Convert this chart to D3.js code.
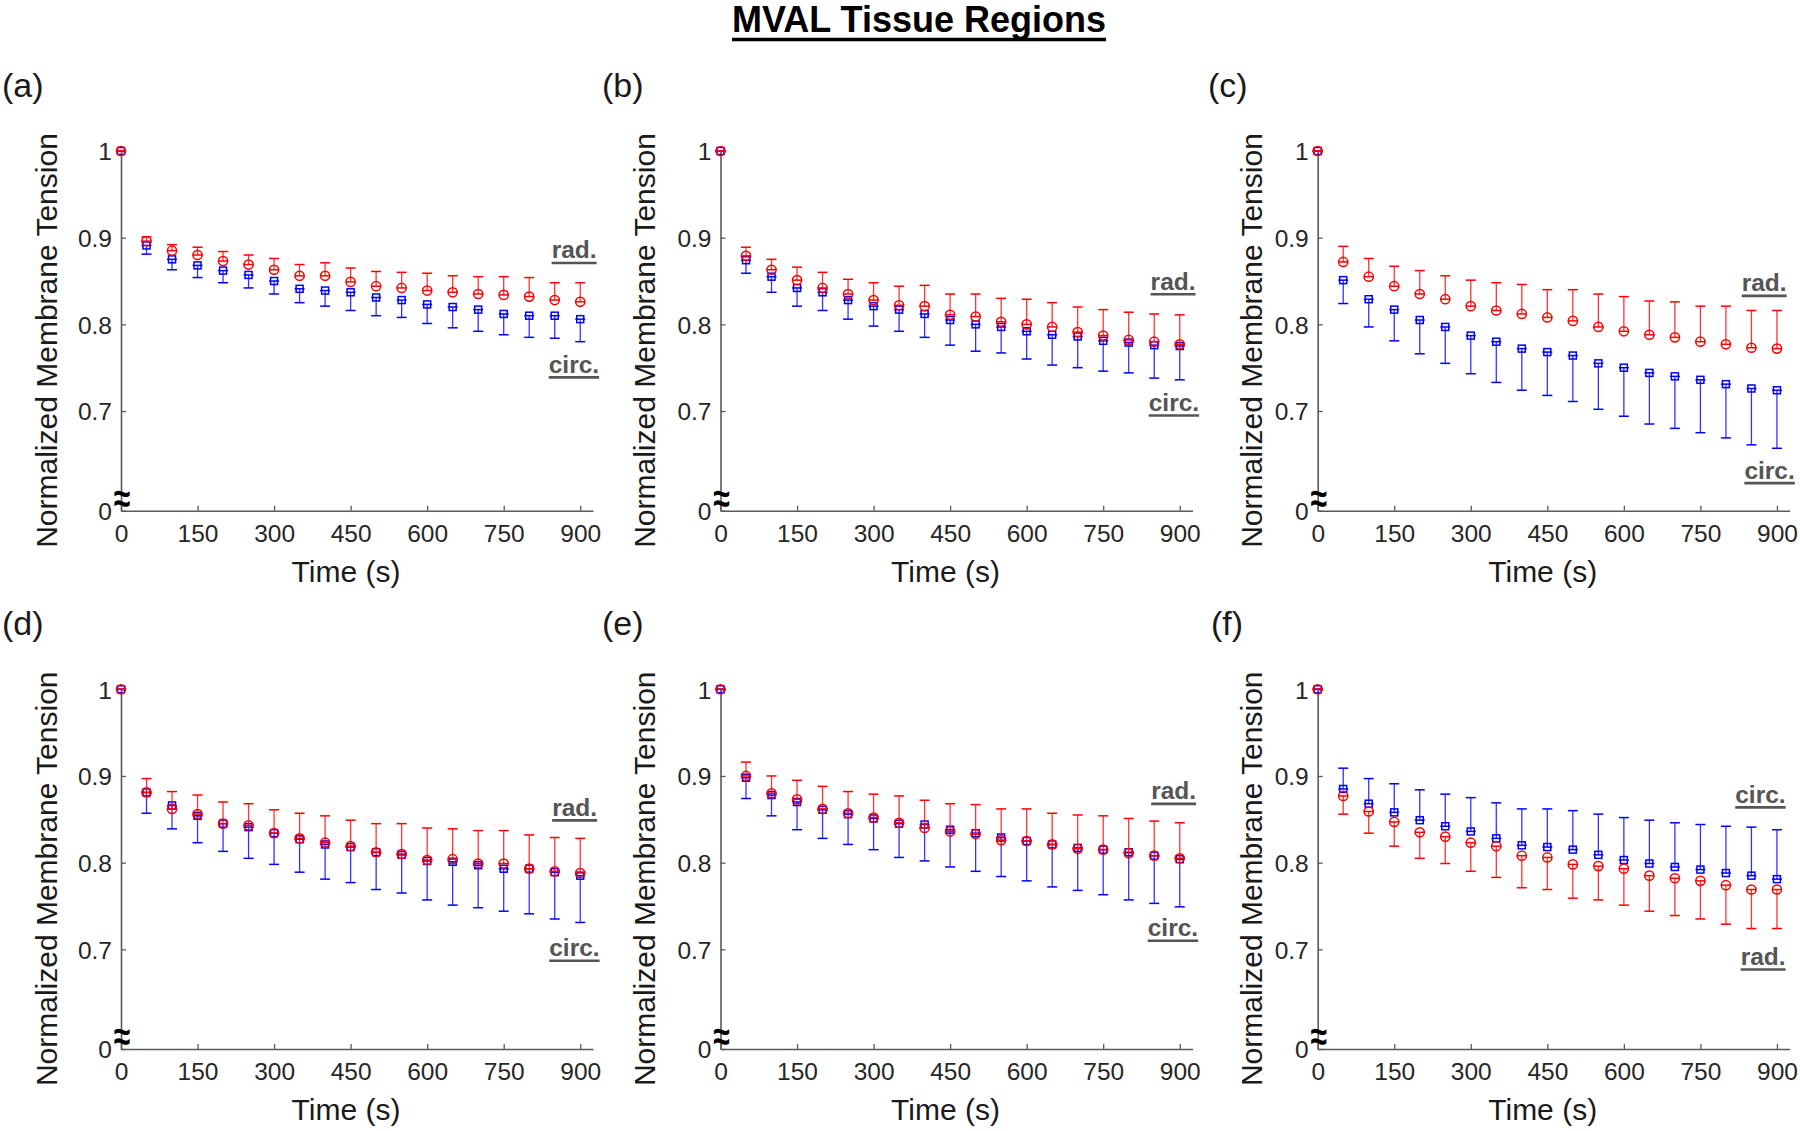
<!DOCTYPE html>
<html>
<head>
<meta charset="utf-8">
<title>MVAL Tissue Regions</title>
<script src="https://d3js.org/d3.v7.min.js"></script>
<style>
  body { margin: 0; background: #fff; }
  svg { display: block; font-family: "Liberation Sans", Arial, Helvetica, sans-serif; }
</style>
</head>
<body>
<svg id="chart"></svg>
<script>
// time points (s) and axis ticks
var timeS = [0, 50, 100, 150, 200, 250, 300, 350, 400, 450, 500, 550, 600, 650, 700, 750, 800, 850, 900];
var xTicks = [0, 150, 300, 450, 600, 750, 900];
var yTicks = [0.585, 0.7, 0.8, 0.9, 1];
var yTickLabels = ["0", "0.7", "0.8", "0.9", "1"];

// (a)
var radMeanA  = [1, .896, .885, .880, .873, .869, .863, .856, .856, .849, .844, .842, .839, .837, .835, .834, .832, .828, .826];
var radSdA    = [0, .005, .007, .009, .011, .011, .013, .013, .015, .016, .017, .018, .020, .019, .020, .021, .022, .020, .022];
var circMeanA = [1, .891, .875, .868, .862, .857, .850, .841, .839, .837, .831, .828, .823, .820, .817, .812, .810, .810, .806];
var circSdA   = [0, .010, .012, .014, .014, .015, .015, .016, .018, .021, .021, .020, .022, .024, .025, .024, .025, .026, .026];
// (b)
var radMeanB  = [1, .879, .863, .851, .842, .835, .828, .822, .821, .811, .809, .803, .800, .797, .791, .787, .782, .780, .777];
var radSdB    = [0, .010, .012, .015, .018, .017, .020, .022, .024, .024, .026, .027, .029, .028, .029, .030, .032, .032, .034];
var circMeanB = [1, .874, .855, .842, .837, .828, .821, .817, .812, .805, .800, .797, .792, .788, .786, .781, .779, .776, .775];
var circSdB   = [0, .015, .018, .021, .021, .022, .023, .025, .027, .029, .031, .030, .032, .035, .036, .035, .035, .038, .039];
// (c)
var radMeanC  = [1, .872, .855, .844, .835, .829, .821, .816, .812, .808, .804, .797, .792, .788, .785, .780, .777, .773, .772];
var radSdC    = [0, .018, .021, .023, .027, .027, .030, .032, .034, .032, .036, .038, .040, .039, .041, .041, .044, .043, .044];
var circMeanC = [1, .851, .829, .817, .805, .797, .787, .780, .772, .768, .764, .755, .750, .744, .740, .736, .731, .726, .724];
var circSdC   = [0, .027, .032, .036, .039, .042, .044, .047, .048, .050, .053, .053, .056, .059, .060, .061, .062, .065, .067];
// (d)
var radMeanD  = [1, .881, .862, .856, .845, .843, .834, .828, .823, .819, .812, .810, .803, .804, .799, .799, .793, .790, .788];
var radSdD    = [0, .016, .020, .022, .025, .025, .027, .029, .031, .030, .033, .035, .037, .035, .038, .038, .039, .039, .040];
var circMeanD = [1, .881, .866, .854, .845, .841, .834, .827, .821, .818, .812, .809, .802, .801, .797, .793, .793, .789, .785];
var circSdD   = [0, .024, .027, .031, .032, .036, .036, .038, .040, .041, .043, .044, .045, .050, .049, .049, .052, .054, .054];
// (e)
var radMeanE  = [1, .900, .880, .873, .862, .857, .852, .846, .840, .836, .833, .826, .825, .821, .816, .815, .811, .808, .805];
var radSdE    = [0, .016, .020, .022, .026, .025, .027, .031, .032, .032, .034, .036, .037, .036, .039, .039, .040, .040, .041];
var circMeanE = [1, .898, .878, .870, .861, .856, .851, .845, .844, .838, .834, .829, .825, .821, .817, .815, .812, .808, .804];
var circSdE   = [0, .024, .024, .032, .033, .035, .036, .039, .042, .043, .044, .045, .046, .049, .049, .052, .055, .055, .055];
// (f)
var radMeanF  = [1, .877, .859, .847, .835, .830, .823, .819, .808, .806, .798, .796, .793, .785, .782, .779, .774, .769, .769];
var radSdF    = [0, .021, .025, .028, .030, .031, .033, .036, .037, .037, .039, .039, .042, .041, .043, .044, .045, .045, .045];
var circMeanF = [1, .885, .868, .858, .849, .842, .836, .828, .820, .818, .815, .809, .803, .799, .795, .792, .788, .785, .781];
var circSdF   = [0, .024, .029, .033, .035, .037, .039, .041, .042, .044, .045, .047, .049, .050, .051, .052, .054, .056, .057];

var width = 1800, height = 1131;
var colX = [121, 720.5, 1317.7];
var rowTop = [151, 689.3];
var plotW = 472, plotH = 359.7;
var xMax = 925, yMin = 0.585;

var panels = [
  { letter: "(a)", col: 0, row: 0, letterX: 2,    labelOff: 64, rad: radMeanA, radSd: radSdA, circ: circMeanA, circSd: circSdA, up: "rad",
    tags: [{ t: "rad.", x: 932, y: .876 }, { t: "circ.", x: 937, y: .744 }] },
  { letter: "(b)", col: 1, row: 0, letterX: 602,  labelOff: 66, rad: radMeanB, radSd: radSdB, circ: circMeanB, circSd: circSdB, up: "rad",
    tags: [{ t: "rad.", x: 931, y: .840 }, { t: "circ.", x: 938, y: .700 }] },
  { letter: "(c)", col: 2, row: 0, letterX: 1208, labelOff: 56, rad: radMeanC, radSd: radSdC, circ: circMeanC, circSd: circSdC, up: "rad",
    tags: [{ t: "rad.", x: 919, y: .838 }, { t: "circ.", x: 935, y: .622 }] },
  { letter: "(d)", col: 0, row: 1, letterX: 2,    labelOff: 64, rad: radMeanD, radSd: radSdD, circ: circMeanD, circSd: circSdD, up: "rad",
    tags: [{ t: "rad.", x: 933, y: .854 }, { t: "circ.", x: 938, y: .692 }] },
  { letter: "(e)", col: 1, row: 1, letterX: 602,  labelOff: 66, rad: radMeanE, radSd: radSdE, circ: circMeanE, circSd: circSdE, up: "rad",
    tags: [{ t: "rad.", x: 932, y: .873 }, { t: "circ.", x: 936, y: .715 }] },
  { letter: "(f)", col: 2, row: 1, letterX: 1211, labelOff: 56, rad: radMeanF, radSd: radSdF, circ: circMeanF, circSd: circSdF, up: "circ",
    tags: [{ t: "circ.", x: 917, y: .869 }, { t: "rad.", x: 917, y: .682 }] }
];

var svg = d3.select("#chart")
  .attr("width", width)
  .attr("height", height);

svg.append("rect").attr("width", width).attr("height", height).attr("fill", "#fff");

// title
var title = svg.append("text")
  .attr("x", 919).attr("y", 32)
  .attr("text-anchor", "middle")
  .attr("font-size", 36).attr("font-weight", "bold")
  .attr("fill", "#000")
  .text("MVAL Tissue Regions");
var tl = title.node().getComputedTextLength();
svg.append("line")
  .attr("x1", 919 - tl / 2).attr("x2", 919 + tl / 2)
  .attr("y1", 39.5).attr("y2", 39.5)
  .attr("stroke", "#000").attr("stroke-width", 3.5);

var axisColor = "#5a5a5a";
var textColor = "#262626";

function drawSeries(g, x, y, means, sds, dir, color, shape) {
  var pts = timeS.map(function(t, i) {
    return { t: t, m: means[i], e: means[i] + dir * sds[i] };
  });
  var s = g.append("g");
  s.selectAll("line.bar").data(pts).enter().append("line")
    .attr("x1", function(d) { return x(d.t); })
    .attr("x2", function(d) { return x(d.t); })
    .attr("y1", function(d) { return y(d.m); })
    .attr("y2", function(d) { return y(d.e); })
    .attr("stroke", color).attr("stroke-width", 1.3).attr("stroke-opacity", 0.8);
  ["m", "e"].forEach(function(k) {
    s.selectAll("line.cap" + k).data(pts).enter().append("line")
      .attr("x1", function(d) { return x(d.t) - 5; })
      .attr("x2", function(d) { return x(d.t) + 5; })
      .attr("y1", function(d) { return y(d[k]); })
      .attr("y2", function(d) { return y(d[k]); })
      .attr("stroke", color).attr("stroke-width", 1.5);
  });
  if (shape === "circle") {
    s.selectAll("circle").data(pts).enter().append("circle")
      .attr("cx", function(d) { return x(d.t); })
      .attr("cy", function(d) { return y(d.m); })
      .attr("r", 4.6)
      .attr("fill", "none").attr("stroke", color).attr("stroke-width", 1.5);
  } else {
    s.selectAll("rect").data(pts).enter().append("rect")
      .attr("x", function(d) { return x(d.t) - 3.5; })
      .attr("y", function(d) { return y(d.m) - 3.5; })
      .attr("width", 7).attr("height", 7)
      .attr("fill", "none").attr("stroke", color).attr("stroke-width", 1.5);
  }
}

panels.forEach(function(p) {
  var x0 = colX[p.col], y0 = rowTop[p.row];
  var x = d3.scaleLinear().domain([0, xMax]).range([x0, x0 + plotW]);
  var y = d3.scaleLinear().domain([yMin, 1]).range([y0 + plotH, y0]);
  var g = svg.append("g");

  // axes
  var gx = g.append("g")
    .attr("transform", "translate(0," + (y0 + plotH) + ")")
    .call(d3.axisBottom(x).tickValues(xTicks).tickSizeInner(-5).tickSizeOuter(0).tickPadding(14));
  var gy = g.append("g")
    .attr("transform", "translate(" + x0 + ",0)")
    .call(d3.axisLeft(y).tickValues(yTicks)
      .tickFormat(function(d, i) { return yTickLabels[i]; })
      .tickSizeInner(-5).tickSizeOuter(0).tickPadding(9));
  [gx, gy].forEach(function(a) {
    a.attr("font-family", null).attr("font-size", 24.5);
    a.select(".domain").attr("stroke", axisColor).attr("stroke-width", 1.6);
    a.selectAll(".tick line").attr("stroke", axisColor).attr("stroke-width", 1.3);
    a.selectAll(".tick text").attr("fill", textColor);
  });
  gy.selectAll(".tick text").attr("dy", "0.36em");

  // axis break mark
  g.append("text")
    .attr("transform", "translate(" + (x0 + 1) + "," + (y0 + plotH - 13) + ") scale(1,1.35)")
    .attr("y", 10.6)
    .attr("text-anchor", "middle")
    .attr("font-size", 30).attr("font-weight", "bold")
    .attr("fill", "#000")
    .text("≈");

  // series: blue circ under red rad
  drawSeries(g, x, y, p.circ, p.circSd, p.up === "circ" ? 1 : -1, "#0000ff", "square");
  drawSeries(g, x, y, p.rad, p.radSd, p.up === "rad" ? 1 : -1, "#ff0000", "circle");

  // series tags
  p.tags.forEach(function(tg) {
    var xe = x(tg.x), yb = y(tg.y);
    var txt = g.append("text")
      .attr("x", xe).attr("y", yb)
      .attr("text-anchor", "end")
      .attr("font-size", 24.5).attr("font-weight", "bold")
      .attr("fill", "#555")
      .text(tg.t);
    var len = txt.node().getComputedTextLength();
    g.append("line")
      .attr("x1", xe - len).attr("x2", xe)
      .attr("y1", yb + 4.5).attr("y2", yb + 4.5)
      .attr("stroke", "#555").attr("stroke-width", 2.6);
  });

  // axis titles
  g.append("text")
    .attr("transform", "translate(" + (x0 - p.labelOff) + "," + (y0 + 189.5) + ") rotate(-90)")
    .attr("text-anchor", "middle")
    .attr("font-size", 30)
    .attr("fill", "#1a1a1a")
    .text("Normalized Membrane Tension");
  g.append("text")
    .attr("x", x0 + 225).attr("y", y0 + plotH + 71)
    .attr("text-anchor", "middle")
    .attr("font-size", 30)
    .attr("fill", "#1a1a1a")
    .text("Time (s)");

  // panel letter
  g.append("text")
    .attr("x", p.letterX).attr("y", y0 - 54)
    .attr("font-size", 34)
    .attr("fill", "#1a1a1a")
    .text(p.letter);
});
</script>
</body>
</html>
